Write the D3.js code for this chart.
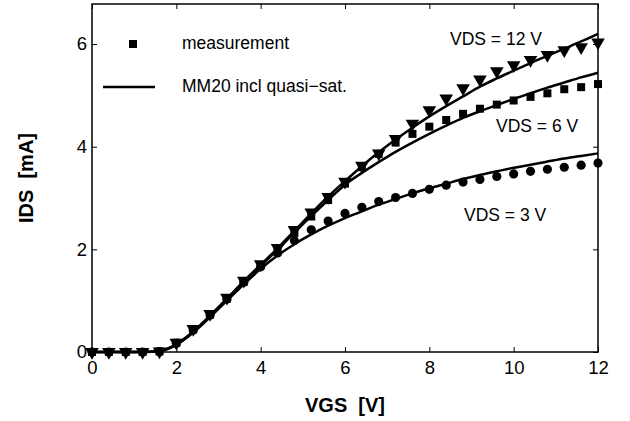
<!DOCTYPE html>
<html>
<head>
<meta charset="utf-8">
<script src="https://cdn.jsdelivr.net/npm/d3@7"></script>
<style>
  body { margin: 0; background: #fff; }
  text { font-family: "Liberation Sans", Arial, sans-serif; fill: #000; }
</style>
</head>
<body>
<div id="chart"></div>
<script>
// gate voltage grid of the measurement (V)
const vgs = [0, 0.4, 0.8, 1.2, 1.6, 2.0, 2.4, 2.8, 3.2, 3.6, 4.0, 4.4, 4.8, 5.2, 5.6, 6.0,
  6.4, 6.8, 7.2, 7.6, 8.0, 8.4, 8.8, 9.2, 9.6, 10.0, 10.4, 10.8, 11.2, 11.6, 12.0];

// measured drain current (mA)
const meas_vds3 = [0, 0, 0, 0, 0.01, 0.17, 0.43, 0.72, 1.03, 1.36, 1.66, 1.93, 2.17, 2.38, 2.55, 2.70,
  2.82, 2.93, 3.01, 3.09, 3.17, 3.25, 3.31, 3.36, 3.42, 3.47, 3.52, 3.56, 3.60, 3.64, 3.68];
const meas_vds6 = [0, 0, 0, 0, 0.01, 0.18, 0.44, 0.73, 1.04, 1.37, 1.69, 2.00, 2.32, 2.64, 2.96, 3.28,
  3.60, 3.86, 4.08, 4.25, 4.39, 4.52, 4.64, 4.74, 4.82, 4.90, 4.97, 5.04, 5.12, 5.16, 5.22];
const meas_vds12 = [0, 0, 0, 0, 0.01, 0.18, 0.45, 0.74, 1.06, 1.39, 1.71, 2.03, 2.38, 2.72, 3.02, 3.32,
  3.63, 3.87, 4.15, 4.45, 4.71, 4.94, 5.14, 5.31, 5.47, 5.59, 5.69, 5.79, 5.88, 5.94, 6.03];

// MM20 model (mA), same grid
const model_vds3 = [0, 0, 0, 0, 0.02, 0.14, 0.38, 0.68, 1.00, 1.32, 1.62, 1.88, 2.10, 2.29, 2.46, 2.61,
  2.74, 2.87, 2.98, 3.09, 3.19, 3.28, 3.37, 3.45, 3.52, 3.59, 3.65, 3.71, 3.77, 3.82, 3.87];
const model_vds6 = [0, 0, 0, 0, 0.02, 0.15, 0.39, 0.70, 1.03, 1.37, 1.68, 1.99, 2.33, 2.65, 2.96, 3.26,
  3.49, 3.70, 3.90, 4.08, 4.25, 4.41, 4.56, 4.69, 4.81, 4.93, 5.04, 5.15, 5.25, 5.35, 5.44];
const model_vds12 = [0, 0, 0, 0, 0.02, 0.15, 0.40, 0.71, 1.04, 1.38, 1.70, 2.02, 2.36, 2.70, 3.03, 3.33,
  3.62, 3.89, 4.14, 4.37, 4.59, 4.79, 4.98, 5.17, 5.33, 5.48, 5.63, 5.77, 5.91, 6.05, 6.20];

const x_ticks = [0, 2, 4, 6, 8, 10, 12];
const y_ticks = [0, 2, 4, 6];

const series = [
  { meas: meas_vds3, model: model_vds3, marker: "circle", label: "VDS = 3 V" },
  { meas: meas_vds6, model: model_vds6, marker: "square", label: "VDS = 6 V" },
  { meas: meas_vds12, model: model_vds12, marker: "triangle", label: "VDS = 12 V" },
];

const width = 630, height = 421;
const margins = { left: 92, right: 32, top: 4, bottom: 69 };
const w = width - margins.left - margins.right;
const h = height - margins.top - margins.bottom;

const svg = d3.select("#chart").append("svg")
  .attr("width", width)
  .attr("height", height);
const g = svg.append("g").attr("transform", `translate(${margins.left},${margins.top})`);

const X = d3.scaleLinear().domain([0, 12]).range([0, w]);
const Y = d3.scaleLinear().domain([0, 6.78]).range([h, 0]);

const tick_len = 5;
const tick_font = 18.5;
const text_font = 17.5;
const label_font = 20;

// axes, MATLAB style: ticks inside, box on
function style_axis(sel) {
  sel.select(".domain").remove();
  sel.selectAll("line").attr("stroke", "#000").attr("stroke-width", 1);
  sel.selectAll("text").attr("font-size", tick_font);
}
g.append("g").attr("transform", `translate(0,${h})`)
  .call(d3.axisBottom(X).tickValues(x_ticks).tickSizeInner(-tick_len).tickSizeOuter(0).tickPadding(9))
  .call(style_axis);
g.append("g")
  .call(d3.axisTop(X).tickValues(x_ticks).tickSizeInner(-tick_len).tickSizeOuter(0).tickFormat(""))
  .call(style_axis);
g.append("g")
  .call(d3.axisLeft(Y).tickValues(y_ticks).tickFormat(d3.format("d")).tickSizeInner(-tick_len).tickSizeOuter(0).tickPadding(5))
  .call(style_axis);
g.append("g").attr("transform", `translate(${w},0)`)
  .call(d3.axisRight(Y).tickValues(y_ticks).tickSizeInner(-tick_len).tickSizeOuter(0).tickFormat(""))
  .call(style_axis);

g.append("rect")
  .attr("width", w)
  .attr("height", h)
  .attr("fill", "none")
  .attr("stroke", "#000")
  .attr("stroke-width", 1.5);

// model lines
const line = d3.line()
  .curve(d3.curveMonotoneX)
  .x((d, i) => X(vgs[i]))
  .y((d) => Y(d));

g.selectAll("path.model")
  .data(series)
  .enter()
  .append("path")
  .classed("model", true)
  .attr("d", (d) => line(d.model))
  .attr("fill", "none")
  .attr("stroke", "#000")
  .attr("stroke-width", 2.5);

// measurement markers
const symbols = {
  circle: d3.symbol().type(d3.symbolCircle).size(66),
  square: d3.symbol().type(d3.symbolSquare).size(64),
  triangle: d3.symbol().type(d3.symbolTriangle).size(80),
};
function draw_marker(sel, type, x, y) {
  sel.append("path")
    .attr("d", symbols[type]())
    .attr("transform", `translate(${x},${y})` + (type === "triangle" ? " rotate(180)" : ""))
    .attr("fill", "#000");
}

series.forEach((s) => {
  const mg = g.append("g");
  s.meas.forEach((v, i) => draw_marker(mg, s.marker, X(vgs[i]), Y(v)));
});

// curve labels
const curve_labels = [
  { text: "VDS = 12 V", x: 450, y: 40 },
  { text: "VDS = 6 V", x: 496, y: 127 },
  { text: "VDS = 3 V", x: 464, y: 216 },
];
svg.selectAll("text.curve_label")
  .data(curve_labels)
  .enter()
  .append("text")
  .classed("curve_label", true)
  .attr("x", (d) => d.x)
  .attr("y", (d) => d.y)
  .attr("dominant-baseline", "middle")
  .attr("font-size", text_font)
  .text((d) => d.text);

// legend
const legend = svg.append("g");
draw_marker(legend, "square", 133, 44);
legend.append("line")
  .attr("x1", 103).attr("x2", 155)
  .attr("y1", 87).attr("y2", 87)
  .attr("stroke", "#000")
  .attr("stroke-width", 2.5);
legend.append("text")
  .attr("x", 182).attr("y", 44)
  .attr("dominant-baseline", "middle")
  .attr("font-size", text_font)
  .text("measurement");
legend.append("text")
  .attr("x", 182).attr("y", 87)
  .attr("dominant-baseline", "middle")
  .attr("font-size", text_font)
  .text("MM20 incl quasi\u2212sat.");

// axis labels
svg.append("text")
  .attr("x", margins.left + w / 2)
  .attr("y", 411.5)
  .attr("text-anchor", "middle")
  .attr("font-size", label_font)
  .attr("font-weight", "bold")
  .style("white-space", "pre")
  .text("VGS  [V]");
svg.append("text")
  .attr("transform", `translate(33,${margins.top + h / 2}) rotate(-90)`)
  .attr("text-anchor", "middle")
  .attr("font-size", label_font)
  .attr("font-weight", "bold")
  .style("white-space", "pre")
  .text("IDS  [mA]");
</script>
</body>
</html>
